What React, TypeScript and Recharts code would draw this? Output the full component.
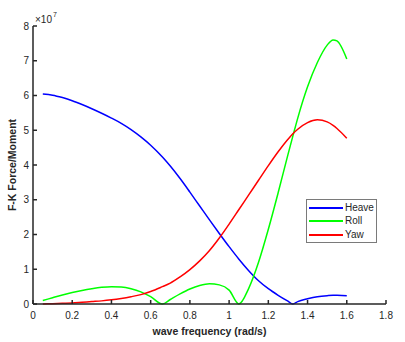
import { LineChart, Line, XAxis, YAxis, Legend } from 'recharts'

// wave frequency (rad/s)
const freq = [0.05, 0.1, 0.15, 0.2, 0.25, 0.3, 0.35, 0.4, 0.45, 0.5, 0.55, 0.6, 0.66, 0.7, 0.75, 0.8, 0.85, 0.9, 0.95, 1.0, 1.05, 1.1, 1.15, 1.2, 1.25, 1.3, 1.325, 1.35, 1.4, 1.45, 1.5, 1.53, 1.55, 1.6]

// F-K force / moment, in units of 1e7
const heave = [6.04, 6.01, 5.94, 5.85, 5.74, 5.62, 5.49, 5.35, 5.2, 5.02, 4.81, 4.57, 4.23, 3.97, 3.61, 3.22, 2.82, 2.42, 2.03, 1.65, 1.29, 0.96, 0.67, 0.44, 0.25, 0.08, 0, 0.07, 0.15, 0.21, 0.24, 0.25, 0.25, 0.24]
const roll = [0.1, 0.18, 0.26, 0.33, 0.39, 0.44, 0.48, 0.5, 0.49, 0.44, 0.35, 0.21, 0, 0.13, 0.29, 0.43, 0.53, 0.58, 0.55, 0.4, 0, 0.45, 1.2, 2.15, 3.2, 4.3, 4.83, 5.35, 6.25, 6.95, 7.45, 7.6, 7.57, 7.05]
const yaw = [0, 0.01, 0.02, 0.03, 0.05, 0.07, 0.09, 0.12, 0.16, 0.21, 0.27, 0.36, 0.5, 0.6, 0.78, 0.99, 1.24, 1.54, 1.9, 2.3, 2.72, 3.14, 3.56, 3.98, 4.38, 4.74, 4.9, 5.03, 5.22, 5.3, 5.24, 5.14, 5.05, 4.77]

const xTicks = [0, 0.2, 0.4, 0.6, 0.8, 1, 1.2, 1.4, 1.6, 1.8]
const yTicks = [0, 1, 2, 3, 4, 5, 6, 7, 8]

const data = freq.map((f, i) => ({ f, Heave: heave[i], Roll: roll[i], Yaw: yaw[i] }))

const FONT = '"Liberation Sans", Arial, Helvetica, sans-serif'
const INK = '#262626'
const tickStyle = { fontSize: 10, fill: INK, fontFamily: FONT }

function YLabel(props: any) {
  const { x, y, height } = props.viewBox
  const cx = x + 12
  const cy = y + height / 2
  return (
    <g fontFamily={FONT} fill={INK}>
      <text x={cx} y={cy} transform={`rotate(-90 ${cx} ${cy})`} textAnchor="middle" dominantBaseline="central" fontSize={10.5} fontWeight="bold">
        F-K Force/Moment
      </text>
      <text x={x + 35} y={y - 3} fontSize={10}>×10</text>
      <text x={x + 53} y={y - 9} fontSize={7}>7</text>
    </g>
  )
}

function XLabel(props: any) {
  const { x, y, width } = props.viewBox
  return (
    <text x={x + width / 2} y={y + 27} textAnchor="middle" dominantBaseline="central" fontFamily={FONT} fontSize={10.5} fontWeight="bold" fill={INK}>
      wave frequency (rad/s)
    </text>
  )
}

const legendColors: Record<string, string> = { Heave: '#0000ff', Roll: '#00ff00', Yaw: '#ff0000' }

function LegendBox({ payload }: any) {
  return (
    <div style={{ width: 71, height: 44, border: '1px solid #7a7a7a', background: '#fff', boxSizing: 'border-box', paddingTop: 1 }}>
      {(payload || []).map((e: any) => (
        <div key={e.value} style={{ display: 'flex', alignItems: 'center', height: 13.6 }}>
          <span style={{ display: 'inline-block', width: 34, height: 2, background: legendColors[e.value] || e.color, marginLeft: 2 }} />
          <span style={{ marginLeft: 2, fontSize: 10, fontFamily: FONT, color: INK, lineHeight: '12px' }}>{e.value}</span>
        </div>
      ))}
    </div>
  )
}

export default function App() {
  return (
    <div style={{ position: 'absolute', left: 0, top: 0, background: '#fff' }}>
      <LineChart width={405} height={342} data={data} margin={{ top: 26, right: 19, bottom: 0, left: 0 }}>
        <XAxis
          dataKey="f" type="number" domain={[0, 1.8]} ticks={xTicks} interval={0} height={38}
          tickSize={-4} tickMargin={12} tick={tickStyle}
          axisLine={{ stroke: INK, strokeWidth: 1.5 }} tickLine={{ stroke: INK, strokeWidth: 1.5 }}
          label={XLabel}
        />
        <XAxis
          xAxisId="top" orientation="top" dataKey="f" type="number" domain={[0, 1.8]} ticks={xTicks} interval={0} height={0}
          tickSize={-4} tick={false}
          axisLine={{ stroke: INK, strokeWidth: 1.5 }} tickLine={{ stroke: INK, strokeWidth: 1.5 }}
        />
        <YAxis
          type="number" domain={[0, 8]} ticks={yTicks} interval={0} width={33}
          tickSize={-4} tickMargin={8} tick={tickStyle}
          axisLine={{ stroke: INK, strokeWidth: 1.5 }} tickLine={{ stroke: INK, strokeWidth: 1.5 }}
          label={YLabel}
        />
        <YAxis
          yAxisId="right" orientation="right" type="number" domain={[0, 8]} ticks={yTicks} interval={0} width={0}
          tickSize={-4} tick={false}
          axisLine={{ stroke: INK, strokeWidth: 1.5 }} tickLine={{ stroke: INK, strokeWidth: 1.5 }}
        />
        <Legend
          layout="vertical" align="center" verticalAlign="middle"
          wrapperStyle={{ left: 306, top: 199, width: 71, height: 44 }}
          content={LegendBox}
        />
        <Line dataKey="Heave" stroke="#0000ff" strokeWidth={1.5} dot={false} type="monotone" isAnimationActive={false} />
        <Line dataKey="Roll" stroke="#00ff00" strokeWidth={1.5} dot={false} type="monotone" isAnimationActive={false} />
        <Line dataKey="Yaw" stroke="#ff0000" strokeWidth={1.5} dot={false} type="monotone" isAnimationActive={false} />
      </LineChart>
    </div>
  )
}
